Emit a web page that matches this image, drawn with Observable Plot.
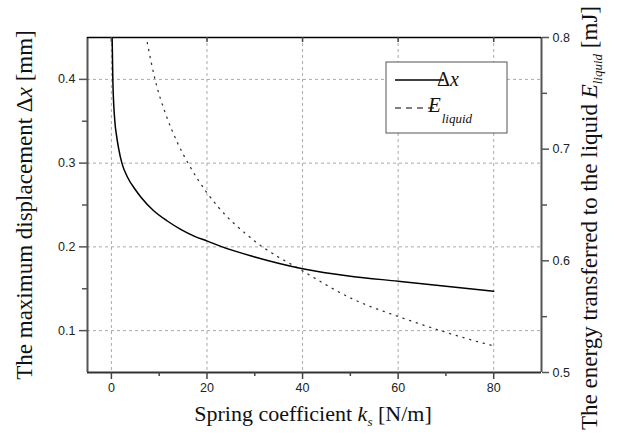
<!DOCTYPE html>
<html><head><meta charset="utf-8">
<script src="https://cdn.jsdelivr.net/npm/d3@7"></script>
<script src="https://cdn.jsdelivr.net/npm/@observablehq/plot@0.6"></script>
<style>body{margin:0;background:#fff}svg{display:block}</style>
</head><body><div id="chart"></div>
<script>
// Δx curve (left axis, mm)
const kDx = [0.1, 0.3, 0.69, 1.1, 1.5, 2.2, 3.35, 5.1, 6.15, 8.9, 11.7, 14.5, 17.3, 20.1, 22.9, 30, 40, 50, 60, 70, 80];
const dxVals = [0.47, 0.40, 0.352, 0.332, 0.318, 0.300, 0.2835, 0.2676, 0.2595, 0.2428, 0.2309, 0.2209, 0.2129, 0.2069, 0.2006, 0.188, 0.174, 0.165, 0.159, 0.153, 0.147];
// E_liquid curve (right axis, mJ)
const kE = [7.5, 9.1, 11.4, 13.8, 16.1, 20, 22.4, 29.6, 40, 50.4, 60.8, 70, 79, 80];
const eVals = [0.7955, 0.763, 0.731, 0.706, 0.687, 0.661, 0.648, 0.619, 0.591, 0.566, 0.549, 0.536, 0.525, 0.524];
// ticks
const xTicks = [0, 20, 40, 60, 80];
const xMinor = [10, 30, 50, 70];
const yTicks = [0.1, 0.2, 0.3, 0.4];
const yMinor = [0.15, 0.25, 0.35];
const eTicks = [0.5, 0.6, 0.7, 0.8];
const eMinor = [0.55, 0.65, 0.75];

const xDomain = [-5, 90];
const yDomain = [0.05, 0.45];
const eDomain = [0.5, 0.8];
const e2y = d3.scaleLinear().domain(eDomain).range(yDomain);

const dxData = kDx.map((k, i) => ({k, v: dxVals[i]}));
const eData = kE.map((k, i) => ({k, v: e2y(eVals[i])}));

const W = 621, H = 439;
const chart = Plot.plot({
  width: W, height: H,
  marginLeft: 87, marginRight: 80, marginTop: 37, marginBottom: 67,
  x: {domain: xDomain},
  y: {domain: yDomain},
  style: {fontFamily: "'Liberation Sans', Arial, sans-serif", fontSize: "12.5px", color: "#222", background: "#fff"},
  marks: [
    Plot.gridX(xTicks, {stroke: "#aaa", strokeOpacity: 1, strokeDasharray: "3,3"}),
    Plot.gridY(yTicks, {stroke: "#aaa", strokeOpacity: 1, strokeDasharray: "3,3"}),
    Plot.line(eData, {x: "k", y: "v", curve: "monotone-x", stroke: "#333", strokeWidth: 1.3, strokeDasharray: "1.2,5.8", clip: true}),
    Plot.line(dxData, {x: "k", y: "v", curve: "monotone-x", stroke: "#000", strokeWidth: 1.5, clip: true}),
    // frame lines
    Plot.ruleX([xDomain[0]], {stroke: "#555", strokeWidth: 2}),
    Plot.ruleX([xDomain[1]], {stroke: "#555", strokeWidth: 2}),
    Plot.ruleY([yDomain[0]], {stroke: "#333", strokeWidth: 2}),
    Plot.ruleY([yDomain[1]], {stroke: "#000", strokeWidth: 1.5}),
    // bottom axis
    Plot.axisX(xTicks, {anchor: "bottom", tickSize: 7, tickPadding: 4, strokeWidth: 1.5, stroke: "#444", label: null}),
    Plot.axisX(xMinor, {anchor: "bottom", tickSize: 4, strokeWidth: 1.5, stroke: "#444", text: null, label: null}),
    // top inward ticks
    Plot.axisX(xTicks, {anchor: "bottom", frameAnchor: "top", tickSize: 5, strokeWidth: 1.5, stroke: "#444", text: null, label: null}),
    // left axis
    Plot.axisY(yTicks, {anchor: "left", tickSize: 8, tickPadding: 4, strokeWidth: 1.5, stroke: "#555", label: null, tickFormat: d3.format(".1f")}),
    Plot.axisY(yMinor, {anchor: "left", tickSize: 5, strokeWidth: 1.5, stroke: "#555", text: null, label: null}),
    // right axis (E)
    Plot.axisY(eTicks.map(e2y), {anchor: "right", tickSize: 7, tickPadding: 4, strokeWidth: 1.5, stroke: "#555", label: null, tickFormat: v => d3.format(".1f")(e2y.invert(v))}),
    Plot.axisY(eMinor.map(e2y), {anchor: "right", tickSize: 5, strokeWidth: 1.5, stroke: "#555", text: null, label: null})
  ]
});
document.getElementById("chart").appendChild(chart);

const svg = d3.select(chart);
const serifFont = "'Liberation Serif', 'Times New Roman', serif";
function addText(sel) {
  return sel.append("text").style("font-family", serifFont).attr("fill", "#111");
}
// Left title
const lt = addText(svg).style("font-size", "23px")
  .attr("text-anchor", "middle").attr("transform", "translate(32,205) rotate(-90)");
lt.append("tspan").text("The maximum displacement Δ");
lt.append("tspan").style("font-style", "italic").text("x");
lt.append("tspan").text(" [mm]");
// Right title
const rt = addText(svg).style("font-size", "23px")
  .attr("text-anchor", "middle").attr("transform", "translate(597,218) rotate(-90)");
rt.append("tspan").text("The energy transferred to the liquid ");
rt.append("tspan").style("font-style", "italic").text("E");
rt.append("tspan").style("font-style", "italic").style("font-size", "13px").attr("dy", 5).text("liquid");
rt.append("tspan").attr("dy", -5).text(" [mJ]");
// X title
const xt = addText(svg).style("font-size", "22px")
  .attr("text-anchor", "middle").attr("x", 313).attr("y", 421);
xt.append("tspan").text("Spring coefficient ");
xt.append("tspan").style("font-style", "italic").text("k");
xt.append("tspan").style("font-style", "italic").style("font-size", "13px").attr("dy", 5).text("s");
xt.append("tspan").attr("dy", -5).text(" [N/m]");
// Legend
const lg = svg.append("g");
lg.append("rect").attr("x", 386).attr("y", 62).attr("width", 121).attr("height", 71)
  .attr("fill", "#fff").attr("stroke", "#555").attr("stroke-width", 1);
lg.append("line").attr("x1", 395).attr("x2", 444).attr("y1", 80).attr("y2", 80).attr("stroke", "#000").attr("stroke-width", 1.5);
lg.append("line").attr("x1", 395).attr("x2", 437).attr("y1", 108).attr("y2", 108).attr("stroke", "#000").attr("stroke-width", 1.2).attr("stroke-dasharray", "6,5");
const l1 = addText(lg).style("font-size", "20px").attr("x", 448).attr("y", 86);
l1.append("tspan").text("Δ");
l1.append("tspan").style("font-style", "italic").text("x");
const l2 = addText(lg).style("font-size", "21px").attr("x", 450).attr("y", 112);
l2.append("tspan").style("font-style", "italic").text("E");
l2.append("tspan").style("font-style", "italic").style("font-size", "13px").attr("dy", 11).attr("dx", 1).text("liquid");
</script>
</body></html>
